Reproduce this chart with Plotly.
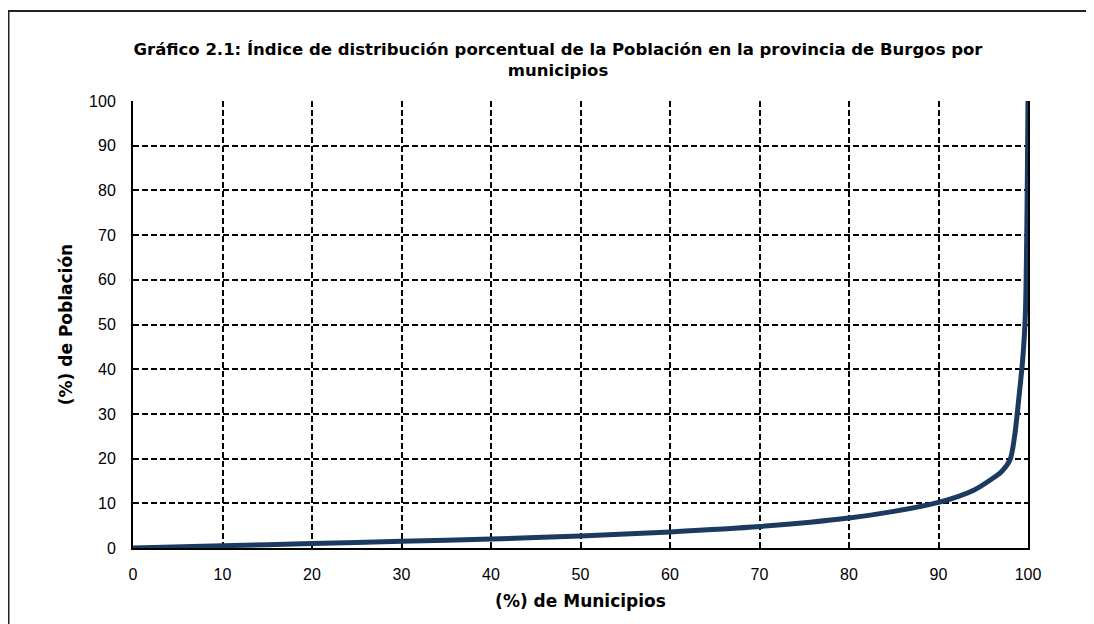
import plotly.graph_objects as go

municipios_pct = [0, 10, 20, 30, 40, 50, 60, 70, 80, 85, 90, 94, 96, 97, 98, 98.5, 99, 99.4, 99.7, 100]
poblacion_pct = [0, 0.5, 1.0, 1.5, 2.0, 2.7, 3.6, 4.8, 6.7, 8.2, 10.2, 13.0, 15.5, 17.0, 19.8, 25.0, 34.0, 42.0, 52.0, 100]

x_ticks = list(range(0, 101, 10))
y_ticks = list(range(0, 101, 10))

title_text = ("Gráfico 2.1: Índice de distribución porcentual de la Población en la provincia de Burgos por"
              "<br>municipios")
x_title = "(%) de Municipios"
y_title = "(%) de Población"

# page body has an 8px margin; coordinates below are figure coordinates
OFF = 8
W, H = 1094 - OFF, 624 - OFF
L, R, T, B = 133 - OFF, 1028 - OFF, 101 - OFF, 548 - OFF

fig = go.Figure()
fig.add_trace(go.Scatter(
    x=municipios_pct, y=poblacion_pct, mode="lines",
    line=dict(color="#1b3a60", width=5, shape="spline", smoothing=0.8),
    cliponaxis=False, hoverinfo="skip", showlegend=False,
))

grid = dict(showgrid=True, gridcolor="#000000", gridwidth=1.5, griddash="6px,3px")
tickfont = dict(family="Liberation Sans, Arial", size=16, color="#000000")
titlefont = dict(family="DejaVu Sans", size=17, color="#000000", weight="bold")
fig.update_xaxes(range=[0, 100], tickvals=x_ticks, ticks="inside", ticklen=4, tickwidth=1.5, tickcolor="#000000",
                 showline=True, linecolor="#000000", linewidth=2, mirror=False, zeroline=False,
                 layer="below traces", tickfont=tickfont, ticklabelstandoff=11,
                 title=dict(text=x_title, font=titlefont, standoff=13), **grid)
fig.update_yaxes(range=[0, 100], tickvals=y_ticks, ticks="inside", ticklen=4, tickwidth=1.5, tickcolor="#000000",
                 showline=True, linecolor="#000000", linewidth=2, mirror=True, zeroline=False,
                 layer="below traces", tickfont=tickfont, ticklabelstandoff=12,
                 title=dict(text=y_title, font=titlefont, standoff=12), **grid)

pw, ph = R - L, B - T
def px(v):
    return (v - L) / pw
def py(v):
    return (B - v) / ph

fig.add_shape(type="rect", xref="paper", yref="paper",
              x0=px(0.5), x1=px(W + 10), y0=py(H + 10), y1=py(3),
              line=dict(color="#222222", width=2), fillcolor="rgba(0,0,0,0)", layer="below")

fig.update_layout(
    width=W, height=H,
    margin=dict(l=L, r=W - R, t=T, b=H - B),
    paper_bgcolor="#ffffff", plot_bgcolor="#ffffff",
    title=dict(text=title_text, x=(558 - OFF) / W, xanchor="center", y=1 - (55 - OFF) / H, yanchor="middle",
               font=dict(family="DejaVu Sans", size=16.5, color="#000000", weight="bold")),
)

fig.write_html("out.html")
